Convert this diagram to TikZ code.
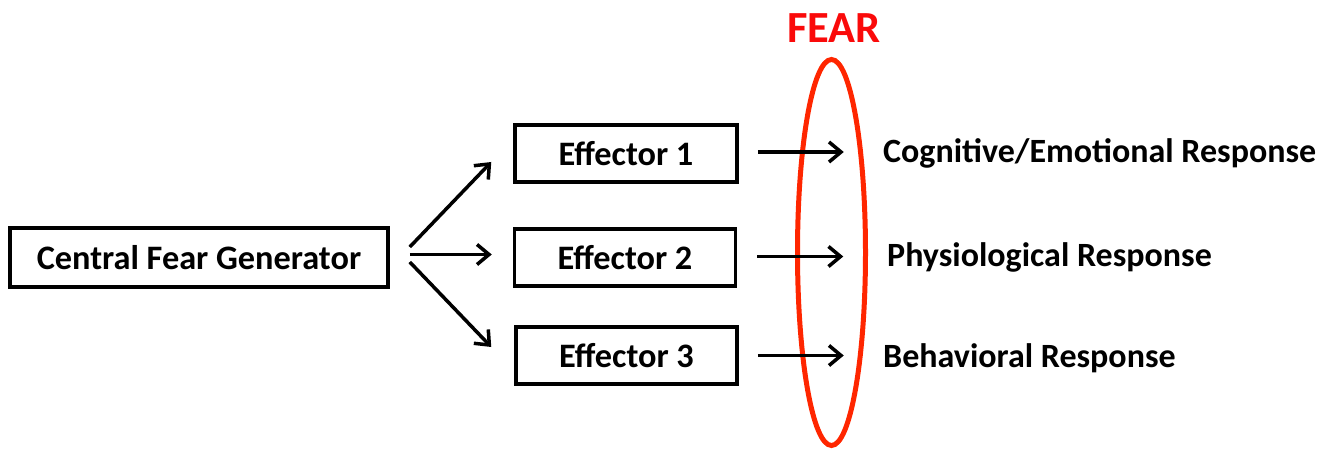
\documentclass[tikz,border=0pt]{standalone}
\usepackage{fontspec}
\setmainfont{Carlito}
\usetikzlibrary{arrows.meta,calc}
\definecolor{ovalred}{RGB}{255,38,0}
\definecolor{fearred}{RGB}{250,10,10}
\tikzset{
  box/.style={draw, line width=3.5pt, inner sep=0pt, font=\fontsize{34.3}{40}\selectfont\bfseries},
  lbl/.style={inner sep=0pt, anchor=base west, font=\fontsize{34}{40}\selectfont\bfseries},
  arr/.style={line width=3.5pt, -{Straight Barb[length=12pt,width=20pt,line width=3.5pt]}}
}
\begin{document}
\begin{tikzpicture}[x=1pt,y=-1pt]
\useasboundingbox (0,0) rectangle (1334,449);
\node[box, minimum width=378pt, minimum height=59pt] (cfg) at (199,257.5) {Central Fear Generator};
\node[box, minimum width=222pt, minimum height=57pt] (e1) at (626,153.5) {Effector 1};
\node[box, minimum width=221pt, minimum height=57pt] (e2) at (625,257.5) {Effector 2};
\node[box, minimum width=221pt, minimum height=57pt] (e3) at (626.5,355.5) {Effector 3};
\node[lbl] (r1) at (883,163) {Cognitive/Emotional Response};
\node[lbl] (r2) at (887,267) {Physiological Response};
\node[lbl] (r3) at (883,367) {Behavioral Response};
\node[inner sep=0pt, anchor=base, text=fearred, font=\fontsize{44.5}{48}\selectfont\bfseries] (fear) at (834,43) {FEAR};
\draw[ovalred, line width=5pt] (831.5,252.5) ellipse [x radius=34pt, y radius=193pt];
\draw[arr] ([xshift=20pt,yshift=10.5pt]cfg.east) -- ([xshift=-22pt,yshift=-8.5pt]e1.west);
\draw[arr] ([xshift=20pt,yshift=3pt]cfg.east) -- ([xshift=-21pt,yshift=3pt]e2.west);
\draw[arr] ([xshift=20pt,yshift=-4.5pt]cfg.east) -- ([xshift=-23pt,yshift=8.5pt]e3.west);
\draw[arr] ([xshift=19pt,yshift=1.5pt]e1.east) -- ++(86,0);
\draw[arr] ([xshift=20pt,yshift=1pt]e2.east) -- ++(86,0);
\draw[arr] ([xshift=19pt]e3.east) -- ++(86,0);
\end{tikzpicture}
\end{document}
